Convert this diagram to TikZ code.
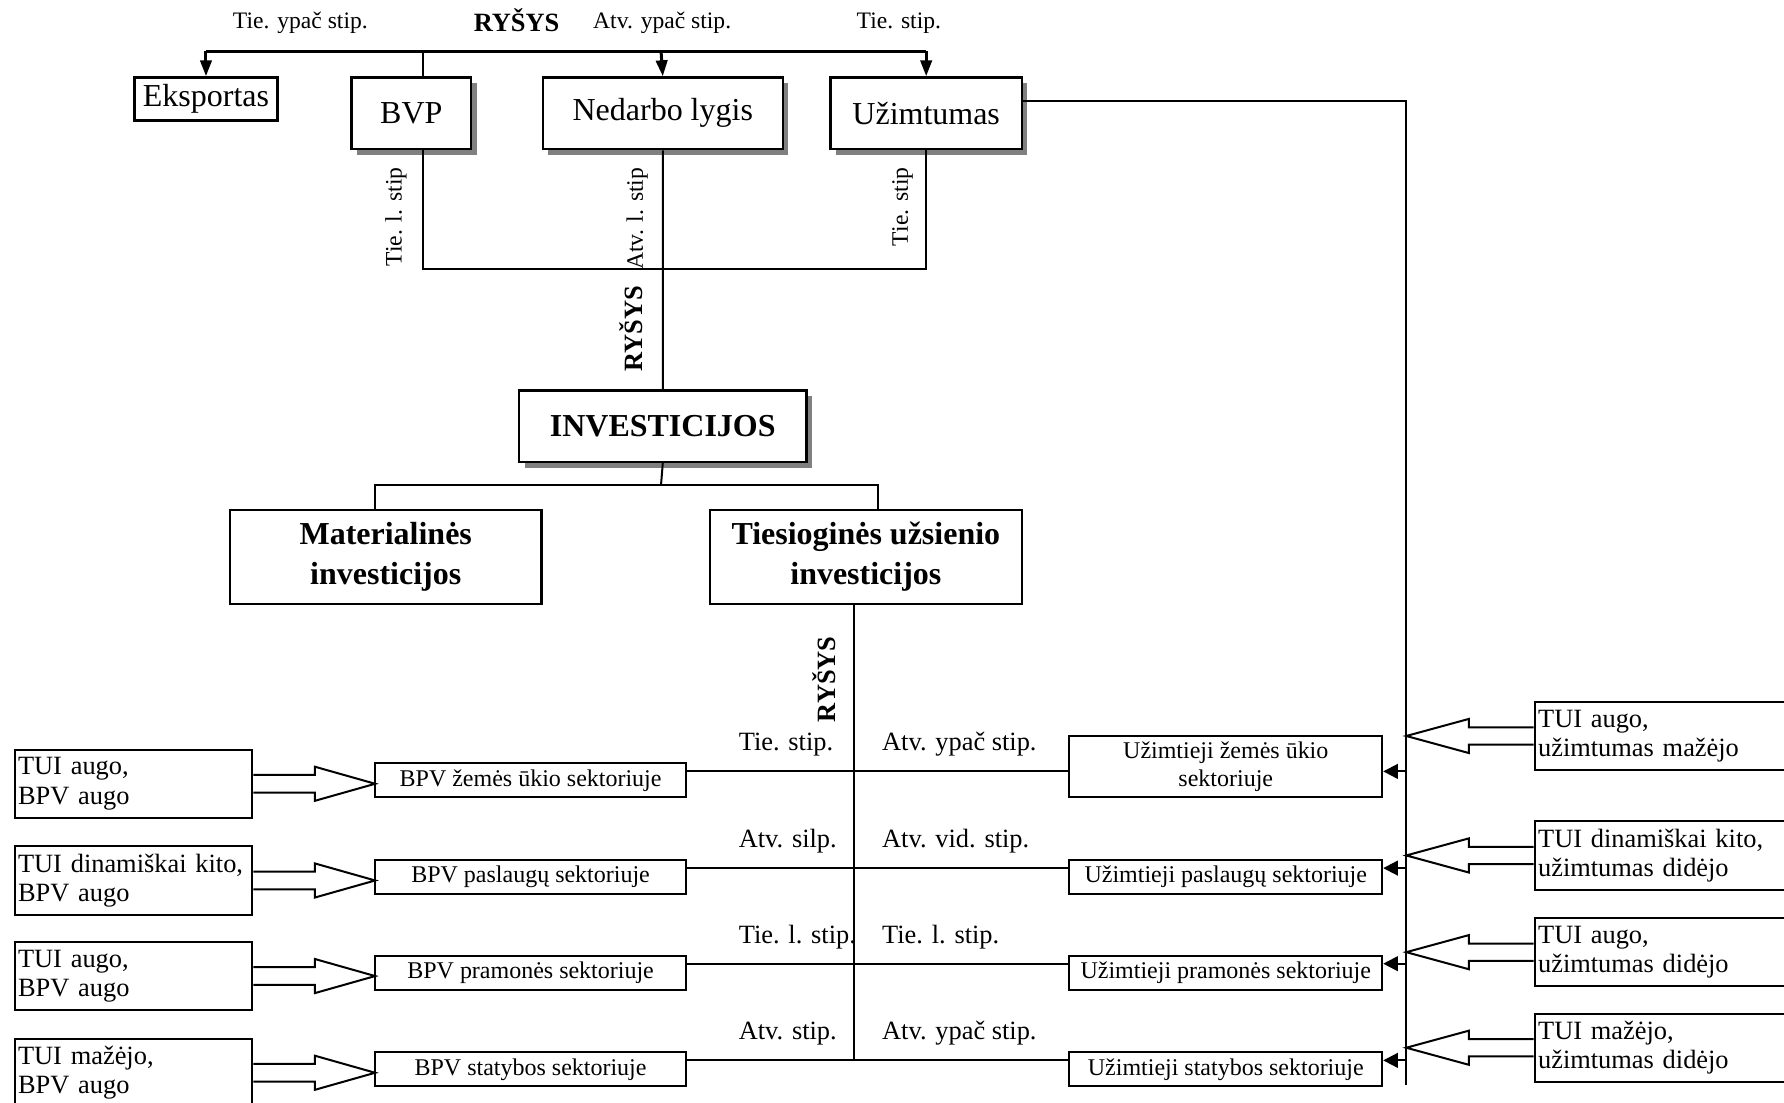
\documentclass[tikz,border=0pt]{standalone}
\usepackage{fontspec}
\setmainfont{Liberation Serif}
\usetikzlibrary{arrows.meta,shadows}

\begin{document}
\begin{tikzpicture}[x=0.02cm,y=-0.02cm,>={Triangle[length=0.28cm,width=0.2cm]},
  box/.style={draw,line width=1.2pt,fill=white,anchor=north west,inner sep=0pt},
  shbox/.style={box,drop shadow={shadow xshift=0.1cm,shadow yshift=-0.1cm,fill=black!50,opacity=1}},
  big/.style={font=\fontsize{16}{20}\selectfont},
  bigb/.style={font=\fontsize{16}{20}\selectfont\bfseries,align=center},
  sect/.style={box,line width=1pt,minimum height=0.6cm,font=\fontsize{12}{13.7}\selectfont,align=center},
  tuibox/.style={box,line width=1pt,minimum height=1.2cm,inner xsep=0.06cm,align=left,font=\fontsize{13.2}{14.6}\selectfont},
  lbl/.style={font=\fontsize{11.8}{14}\selectfont,inner sep=0pt},
  rlbl/.style={font=\fontsize{13.2}{15}\selectfont,inner sep=0pt,anchor=base west},
  rys/.style={font=\fontsize{13.2}{15}\selectfont\bfseries,inner sep=0pt},
  line/.style={line width=1pt},
  bar/.style={line width=1.5pt},
  hollow/.style={line width=1pt,line join=miter}]
\useasboundingbox (0,0) rectangle (1568,969);
\clip (0,0) rectangle (1568,969);

% virsus
\node[lbl,anchor=base] (t1) at (264,25) {Tie. ypač stip.};
\node[rys,anchor=base] (t2) at (454,28) {RYŠYS};
\node[lbl,anchor=base] (t3) at (582,25) {Atv. ypač stip.};
\node[lbl,anchor=base] (t4) at (790,25) {Tie. stip.};

\node[box,big,minimum width=2.52cm,minimum height=0.76cm] (eksp) at (117,67) {Eksportas};
\node[shbox,big,minimum width=2.1cm,minimum height=1.26cm] (bvp) at (308,67) {BVP};
\node[shbox,big,minimum width=4.22cm,minimum height=1.26cm] (nedarbo) at (476,67) {Nedarbo lygis};
\node[shbox,big,minimum width=3.36cm,minimum height=1.26cm] (uzimt) at (729,67) {Užimtumas};

\coordinate (barM) at (581,45);
\draw[bar] (eksp.north |- barM) -- (uzimt.north |- barM);
\draw[bar,->] (eksp.north |- barM) -- (eksp.north);
\draw[bar,->] (barM) -- (nedarbo.north);
\draw[bar,->] (uzimt.north |- barM) -- (uzimt.north);
\coordinate (bvpT) at ([xshift=0.21cm]bvp.north);
\draw[line] (bvpT |- barM) -- (bvpT);

% investicijos
\node[shbox,bigb,minimum width=5.06cm,minimum height=1.26cm] (invest) at (455,342) {INVESTICIJOS};
\node[box,bigb,minimum width=5.48cm,minimum height=1.66cm] (mater) at (201,447) {Materialinės\\investicijos};
\node[box,bigb,minimum width=5.48cm,minimum height=1.66cm] (tui) at (623,447) {Tiesioginės užsienio\\investicijos};

\coordinate (hubT) at (581,236);
\coordinate (bvpB) at ([xshift=0.21cm]bvp.south);
\draw[line] (bvpB) |- (hubT) -| (uzimt.south);
\draw[line] (nedarbo.south) -- (invest.north);
\coordinate (hubM) at (581,426);
\draw[line] (invest.south) -- (hubM);
\draw[line] ([xshift=-0.18cm]mater.north) |- (hubM) -| ([xshift=0.22cm]tui.north);

\node[lbl,rotate=90,anchor=base east] (r1) at (353,147) {Tie. l. stip};
\node[lbl,rotate=90,anchor=base east] (r2) at (565,147) {Atv. l. stip};
\node[lbl,rotate=90,anchor=base east] (r3) at (798,147) {Tie. stip};
\node[rys,rotate=90,anchor=base] (r4) at (565,289) {RYŠYS};
\node[rys,rotate=90,anchor=base] (r5) at (734,597) {RYŠYS};

% sektoriai
\node[sect,minimum width=5.46cm] (bpvA) at (329,670) {BPV žemės ūkio sektoriuje};
\node[sect,minimum width=5.46cm] (bpvB) at (329,755) {BPV paslaugų sektoriuje};
\node[sect,minimum width=5.46cm] (bpvC) at (329,839) {BPV pramonės sektoriuje};
\node[sect,minimum width=5.46cm] (bpvD) at (329,924) {BPV statybos sektoriuje};
\node[sect,minimum width=5.5cm,minimum height=1.08cm] (uzA) at (939,646) {Užimtieji žemės ūkio\\sektoriuje};
\node[sect,minimum width=5.5cm] (uzB) at (939,755) {Užimtieji paslaugų sektoriuje};
\node[sect,minimum width=5.5cm] (uzC) at (939,839) {Užimtieji pramonės sektoriuje};
\node[sect,minimum width=5.5cm] (uzD) at (939,924) {Užimtieji statybos sektoriuje};

\coordinate (hA) at ([yshift=-0.16cm]bpvA.north east);
\coordinate (hB) at ([yshift=-0.16cm]bpvB.north east);
\coordinate (hC) at ([yshift=-0.16cm]bpvC.north east);
\coordinate (hD) at ([yshift=-0.16cm]bpvD.north east);
\draw[line] (hA) -- (hA -| uzA.west);
\draw[line] (hB) -- (hB -| uzB.west);
\draw[line] (hC) -- (hC -| uzC.west);
\draw[line] (hD) -- (hD -| uzD.west);
\coordinate (spL) at ([xshift=-0.2cm]tui.south);
\draw[line] (spL) -- (spL |- hD);

\node[rlbl] (aA) at (649,660) {Tie. stip.};
\node[rlbl] (bA) at (775,660) {Atv. ypač stip.};
\node[rlbl] (aB) at (649,745) {Atv. silp.};
\node[rlbl] (bB) at (775,745) {Atv. vid. stip.};
\node[rlbl] (aC) at (649,829) {Tie. l. stip.};
\node[rlbl] (bC) at (775,829) {Tie. l. stip.};
\node[rlbl] (aD) at (649,914) {Atv. stip.};
\node[rlbl] (bD) at (775,914) {Atv. ypač stip.};

% desine
\coordinate (uzR) at ([yshift=0.21cm]uzimt.east);
\coordinate (spR) at (1236,954);
\draw[line] (uzR) -| (spR);
\draw[line,-{Triangle[length=0.26cm,width=0.26cm]}] (hA -| spR) -- (hA -| uzA.east);
\draw[line,-{Triangle[length=0.26cm,width=0.26cm]}] (hB -| spR) -- (hB -| uzB.east);
\draw[line,-{Triangle[length=0.26cm,width=0.26cm]}] (hC -| spR) -- (hC -| uzC.east);
\draw[line,-{Triangle[length=0.26cm,width=0.26cm]}] (hD -| spR) -- (hD -| uzD.east);

% TUI kairėje
\node[tuibox,text width=4.06cm] (inA) at (12,658) {TUI augo,\\BPV augo};
\node[tuibox,text width=4.06cm] (inB) at (12,743) {TUI dinamiškai kito,\\BPV augo};
\node[tuibox,text width=4.06cm] (inC) at (12,827) {TUI augo,\\BPV augo};
\node[tuibox,text width=4.06cm] (inD) at (12,912) {TUI mažėjo,\\BPV augo};
\draw[hollow] (inA.east) ++(0,-7.75) -- ++(54,0) -- ++(0,-7.25) -- ++(53,15) -- ++(-53,15) -- ++(0,-7.25) -- ++(-54,0);
\draw[hollow] (inB.east) ++(0,-7.75) -- ++(54,0) -- ++(0,-7.25) -- ++(53,15) -- ++(-53,15) -- ++(0,-7.25) -- ++(-54,0);
\draw[hollow] (inC.east) ++(0,-7.75) -- ++(54,0) -- ++(0,-7.25) -- ++(53,15) -- ++(-53,15) -- ++(0,-7.25) -- ++(-54,0);
\draw[hollow] (inD.east) ++(0,-7.75) -- ++(54,0) -- ++(0,-7.25) -- ++(53,15) -- ++(-53,15) -- ++(0,-7.25) -- ++(-54,0);

% TUI dešinėje
\node[tuibox,text width=5.88cm] (outA) at (1348,616) {TUI augo,\\užimtumas mažėjo};
\node[tuibox,text width=5.88cm] (outB) at (1348,721) {TUI dinamiškai kito,\\užimtumas didėjo};
\node[tuibox,text width=5.88cm] (outC) at (1348,806) {TUI augo,\\užimtumas didėjo};
\node[tuibox,text width=5.88cm] (outD) at (1348,890) {TUI mažėjo,\\užimtumas didėjo};
\draw[hollow] (outA.west) ++(0,-7.6) -- ++(-57,0) -- ++(0,-7.4) -- ++(-55,15) -- ++(55,15) -- ++(0,-7.4) -- ++(57,0);
\draw[hollow] (outB.west) ++(0,-7.6) -- ++(-57,0) -- ++(0,-7.4) -- ++(-55,15) -- ++(55,15) -- ++(0,-7.4) -- ++(57,0);
\draw[hollow] (outC.west) ++(0,-7.6) -- ++(-57,0) -- ++(0,-7.4) -- ++(-55,15) -- ++(55,15) -- ++(0,-7.4) -- ++(57,0);
\draw[hollow] (outD.west) ++(0,-7.6) -- ++(-57,0) -- ++(0,-7.4) -- ++(-55,15) -- ++(55,15) -- ++(0,-7.4) -- ++(57,0);
\end{tikzpicture}
\end{document}
